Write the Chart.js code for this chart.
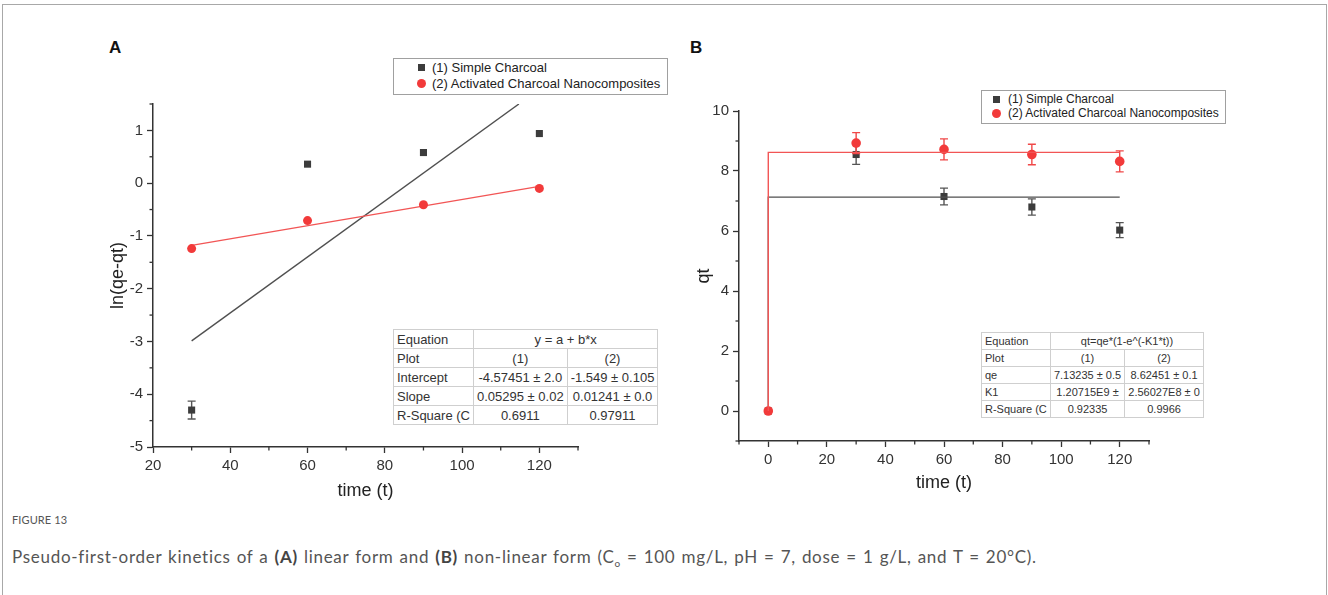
<!DOCTYPE html>
<html>
<head>
<meta charset="utf-8">
<script src="https://cdn.jsdelivr.net/npm/chart.js@4/dist/chart.umd.min.js"></script>
<style>
  html, body { margin:0; padding:0; background:#fff; }
  body { width:1328px; height:595px; position:relative; overflow:hidden; font-family:"Liberation Sans", Arial, sans-serif; color:#333; }
  .frame { position:absolute; left:2px; top:4px; width:1323px; height:600px; border:1px solid #a8a8a8; border-bottom:none; }
  canvas { position:absolute; }
  .plabel { position:absolute; font-weight:bold; font-size:17px; color:#111; }
  .legend { position:absolute; border:1px solid #a0a0a0; background:#fff; color:#222; }
  .legend .row { position:absolute; white-space:nowrap; }
  .legend .sq { position:absolute; width:7px; height:7px; background:#3c3c3c; }
  .legend .ci { position:absolute; width:9px; height:9px; border-radius:50%; background:#f23a3a; }
  table.fit { position:absolute; border-collapse:collapse; background:#fff; color:#333; border:1px solid #9a9a9a; }
  table.fit td { border:1px solid #cfcfcf; padding:0 3px; white-space:nowrap; overflow:hidden; }
  table.fit td.c { text-align:center; }
  .figlab { position:absolute; left:12px; top:513px; font-family:Lato, "Open Sans", sans-serif; font-size:11px; color:#555; letter-spacing:0.1px; }
  .cap { position:absolute; left:12px; top:546px; font-family:Lato, "Open Sans", sans-serif; font-size:17px; color:#555; white-space:nowrap; letter-spacing:0.72px; word-spacing:1px; }
  .cap b { font-weight:bold; color:#444; }
</style>
</head>
<body>
<div class="frame"></div>
<div class="plabel" style="left:109px; top:38px;">A</div>
<div class="plabel" style="left:690px; top:38px;">B</div>
<canvas id="cA" width="500" height="440" style="left:107px; top:80px;"></canvas>
<canvas id="cB" width="500" height="440" style="left:693px; top:80px;"></canvas>

<div class="legend" style="left:393px; top:58px; width:273px; height:35px; font-size:13px;">
  <div class="sq" style="left:24px; top:5px;"></div>
  <div class="row" style="left:38px; top:1px;">(1) Simple Charcoal</div>
  <div class="ci" style="left:23px; top:20px;"></div>
  <div class="row" style="left:38px; top:17px;">(2) Activated Charcoal Nanocomposites</div>
</div>
<div class="legend" style="left:981px; top:90px; width:243px; height:32px; font-size:12px;">
  <div class="sq" style="left:11px; top:5px;"></div>
  <div class="row" style="left:26px; top:1px;">(1) Simple Charcoal</div>
  <div class="ci" style="left:10px; top:18px;"></div>
  <div class="row" style="left:26px; top:15px;">(2) Activated Charcoal Nanocomposites</div>
</div>

<table class="fit" id="tA" style="left:393px; top:329px; width:251px; font-size:13px;"></table>
<table class="fit" id="tB" style="left:981px; top:332px; width:223px; font-size:11px;"></table>

<div class="figlab">FIGURE 13</div>
<div class="cap">Pseudo-first-order kinetics of a <b>(A)</b> linear form and <b>(B)</b> non-linear form (C<sub style="font-size:10px">o</sub> = 100 mg/L, pH = 7, dose = 1 g/L, and T = 20°C).</div>

<script>
// ---------- DATA ----------
// Panel A: linear form
const timeA = [30, 60, 90, 120];
const lnSimple = [-4.30, 0.36, 0.58, 0.94];
const lnSimpleErr = [0.17, 0, 0, 0];
const lnActivated = [-1.24, -0.71, -0.41, -0.10];
const fitSimpleAx = [30, 114.7];
const fitSimpleAy = [-2.99, 1.50];
const fitActAx = [30, 120];
const fitActAy = [-1.18, -0.06];
const xTicksA = [20, 40, 60, 80, 100, 120];
const yTicksA = [-5, -4, -3, -2, -1, 0, 1];

// Panel B: non-linear form
const timeB = [0, 30, 60, 90, 120];
const qtSimple = [0, 8.55, 7.15, 6.80, 6.03];
const qtSimpleErr = [0, 0.33, 0.28, 0.27, 0.25];
const qtActivated = [0, 8.93, 8.72, 8.55, 8.32];
const qtActivatedErr = [0, 0.35, 0.35, 0.34, 0.35];
const fitBx = [0, 0, 120];
const fitSimpleBy = [0, 7.13, 7.13];
const fitActBy = [0, 8.62, 8.62];
const xTicksB = [0, 20, 40, 60, 80, 100, 120];
const yTicksB = [0, 2, 4, 6, 8, 10];

const seriesNames = ['(1) Simple Charcoal', '(2) Activated Charcoal Nanocomposites'];

// Fit tables
const tableA = [
  ['Equation', 'y = a + b*x'],
  ['Plot', '(1)', '(2)'],
  ['Intercept', '-4.57451 ± 2.0', '-1.549 ± 0.105'],
  ['Slope', '0.05295 ± 0.02', '0.01241 ± 0.0'],
  ['R-Square (C', '0.6911', '0.97911']
];
const tableB = [
  ['Equation', 'qt=qe*(1-e^(-K1*t))'],
  ['Plot', '(1)', '(2)'],
  ['qe', '7.13235 ± 0.5', '8.62451 ± 0.1'],
  ['K1', '1.20715E9 ±', '2.56027E8 ± 0'],
  ['R-Square (C', '0.92335', '0.9966']
];

// ---------- STYLE ----------
const BLACK = '#3c3c3c';
const RED = '#f23a3a';
const FONT = '"Liberation Sans", Arial, sans-serif';
Chart.defaults.font.family = FONT;
Chart.defaults.color = '#333';

function buildTable(id, rows, widths, rowH) {
  const t = document.getElementById(id);
  rows.forEach((r, i) => {
    const tr = document.createElement('tr');
    tr.style.height = rowH + 'px';
    r.forEach((c, j) => {
      const td = document.createElement('td');
      td.textContent = c;
      if (j > 0) td.className = 'c';
      if (r.length === 2 && j === 1) td.colSpan = 2;
      if (i === 1) td.style.width = widths[j] + 'px';
      tr.appendChild(td);
    });
    t.appendChild(tr);
  });
}
buildTable('tA', tableA, [70, 82, 77], 19);
buildTable('tB', tableB, [63, 65, 74], 17);

const pts = (xs, ys) => xs.map((x, i) => ({x, y: ys[i]}));

const errorBars = {
  id: 'errorBars',
  beforeDatasetDraw(chart, args) {
    const ds = chart.data.datasets[args.index];
    if (!ds.errors) return;
    const ctx = chart.ctx, ys = chart.scales.y;
    ctx.save();
    ctx.strokeStyle = ds.errorColor;
    ctx.lineWidth = 1.4;
    args.meta.data.forEach((el, i) => {
      const e = ds.errors[i];
      if (!e) return;
      const v = ds.data[i].y;
      const t = ys.getPixelForValue(v + e), b = ys.getPixelForValue(v - e);
      const x = el.x;
      ctx.beginPath();
      ctx.moveTo(x, t); ctx.lineTo(x, b);
      ctx.moveTo(x - 4, t); ctx.lineTo(x + 4, t);
      ctx.moveTo(x - 4, b); ctx.lineTo(x + 4, b);
      ctx.stroke();
    });
    ctx.restore();
  }
};

const minorTicks = {
  id: 'minorTicks',
  afterDraw(chart) {
    const m = chart.options.plugins.minorTicks;
    if (!m) return;
    const ctx = chart.ctx, xs = chart.scales.x, ys = chart.scales.y;
    ctx.save();
    ctx.strokeStyle = '#333';
    ctx.lineWidth = 1.3;
    m.x.forEach(v => {
      const px = xs.getPixelForValue(v);
      ctx.beginPath(); ctx.moveTo(px, xs.top); ctx.lineTo(px, xs.top + 3.5); ctx.stroke();
    });
    m.y.forEach(v => {
      const py = ys.getPixelForValue(v);
      ctx.beginPath(); ctx.moveTo(ys.right, py); ctx.lineTo(ys.right - 3.5, py); ctx.stroke();
    });
    ctx.restore();
  }
};

function axis(min, max, ticks, title, size, horizontal) {
  return {
    type: 'linear', min, max,
    afterBuildTicks: s => { s.ticks = ticks.map(v => ({value: v})); },
    afterFit: s => { if (horizontal) s.height = size; else s.width = size; },
    grid: { display: true, drawOnChartArea: false, drawTicks: true, tickLength: 6, tickWidth: 1.3, tickColor: '#333' },
    border: { display: true, color: '#333', width: 1.5 },
    ticks: { font: { size: 15, family: FONT }, color: '#333', padding: 4, maxRotation: 0, autoSkip: false },
    title: { display: true, text: title, font: { size: 18, family: FONT }, color: '#222', padding: 0 }
  };
}

// ---------- CHART A ----------
new Chart(document.getElementById('cA'), {
  type: 'scatter',
  data: {
    datasets: [
      { label: 'fit1', data: pts(fitSimpleAx, fitSimpleAy), showLine: true, pointRadius: 0, borderColor: '#505050', borderWidth: 1.4, order: 4 },
      { label: 'fit2', data: pts(fitActAx, fitActAy), showLine: true, pointRadius: 0, borderColor: '#f25555', borderWidth: 1.4, order: 3 },
      { label: seriesNames[0], data: pts(timeA, lnSimple), errors: lnSimpleErr, errorColor: '#555', pointStyle: 'rect', pointRadius: 5, backgroundColor: BLACK, borderColor: BLACK, borderWidth: 0, order: 2 },
      { label: seriesNames[1], data: pts(timeA, lnActivated), pointStyle: 'circle', pointRadius: 4.5, backgroundColor: RED, borderColor: RED, borderWidth: 0, order: 1 }
    ]
  },
  options: {
    responsive: false, animation: false, devicePixelRatio: 1,
    layout: { padding: { top: 24, right: 29, bottom: 18, left: 0 } },
    plugins: { legend: { display: false }, tooltip: { enabled: false },
      minorTicks: { x: [30, 50, 70, 90, 110, 130], y: [-4.5, -3.5, -2.5, -1.5, -0.5, 0.5, 1.5] } },
    scales: {
      x: axis(20, 130, xTicksA, 'time (t)', 55, true),
      y: axis(-5, 1.5, yTicksA, 'ln(qe-qt)', 46, false)
    }
  },
  plugins: [errorBars, minorTicks]
});

// ---------- CHART B ----------
new Chart(document.getElementById('cB'), {
  type: 'scatter',
  data: {
    datasets: [
      { label: seriesNames[0], data: pts(timeB, qtSimple), errors: qtSimpleErr, errorColor: '#555', pointStyle: 'rect', pointRadius: 5, backgroundColor: BLACK, borderColor: BLACK, borderWidth: 0, order: 4 },
      { label: 'fit1', data: pts(fitBx, fitSimpleBy), showLine: true, pointRadius: 0, borderColor: '#505050', borderWidth: 1.4, order: 3 },
      { label: seriesNames[1], data: pts(timeB, qtActivated), errors: qtActivatedErr, errorColor: '#f04848', pointStyle: 'circle', pointRadius: 4.8, backgroundColor: RED, borderColor: RED, borderWidth: 0, order: 2 },
      { label: 'fit2', data: pts(fitBx, fitActBy), showLine: true, pointRadius: 0, borderColor: '#f25555', borderWidth: 1.4, order: 1 }
    ]
  },
  options: {
    responsive: false, animation: false, devicePixelRatio: 1,
    layout: { padding: { top: 31, right: 44, bottom: 26, left: 0 } },
    plugins: { legend: { display: false }, tooltip: { enabled: false },
      minorTicks: { x: [-10, 10, 30, 50, 70, 90, 110, 130], y: [-1, 1, 3, 5, 7, 9] } },
    scales: {
      x: axis(-10, 130, xTicksB, 'time (t)', 53, true),
      y: axis(-1, 10, yTicksB, 'qt', 46, false)
    }
  },
  plugins: [errorBars, minorTicks]
});
</script>
</body>
</html>
